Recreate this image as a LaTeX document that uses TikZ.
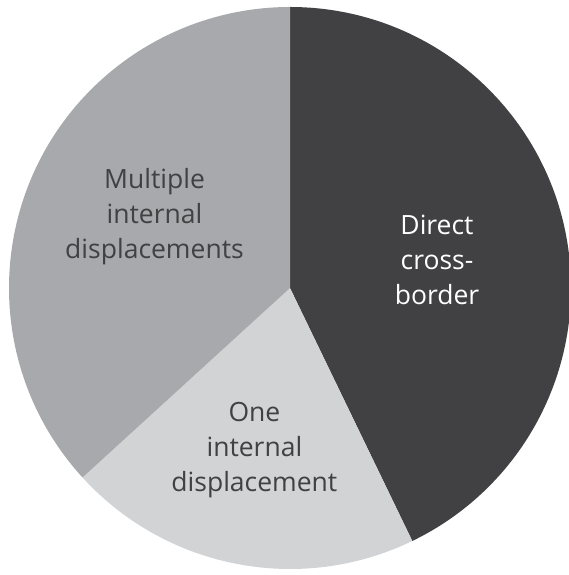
\documentclass[tikz,border=0pt]{standalone}
\usepackage{fontspec}
\setmainfont{Open Sans}
\definecolor{sdark}{HTML}{414042}
\definecolor{smid}{HTML}{A7A9AC}
\definecolor{slight}{HTML}{D1D3D4}
\begin{document}
\begin{tikzpicture}[x=1pt,y=1pt,
  lbl/.style={align=center,font=\fontsize{26.5}{35}\selectfont,inner sep=0pt}]
\useasboundingbox (0,0) rectangle (569,575);
\coordinate (c) at (290,287);
\begin{scope}[shift={(c)}]
\fill[sdark] (0,0) -- (90:281) arc[start angle=90,end angle=-64.2,radius=281] -- cycle;
\fill[slight] (0,0) -- (-64.2:281) arc[start angle=-64.2,end angle=-137.6,radius=281] -- cycle;
\fill[smid] (0,0) -- (-137.6:281) arc[start angle=222.4,end angle=90,radius=281] -- cycle;
\end{scope}
\node[lbl,text=sdark] (multi) at (154.5,358) {Multiple\\internal\\displacements};
\node[lbl,text=white] (direct) at (437,315) {Direct\\cross-\\border};
\node[lbl,text=sdark] (one) at (254.4,125) {One\\internal\\displacement};
\end{tikzpicture}
\end{document}
